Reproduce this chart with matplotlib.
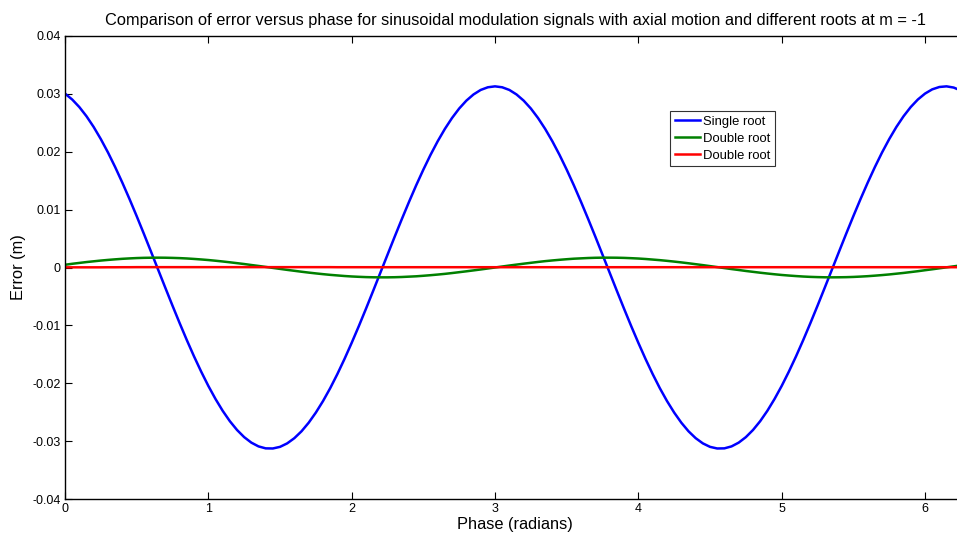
import matplotlib
matplotlib.use("Agg")
import matplotlib.pyplot as plt
import numpy as np

plt.rcParams['font.family'] = ['Liberation Sans', 'DejaVu Sans']

# samples read at whole tenths of a radian
phase_a = [0.0, 0.1, 0.2, 0.3, 0.4, 0.5, 0.6, 0.7, 0.8, 0.9,
           1.0, 1.1, 1.2, 1.3, 1.4, 1.5, 1.6, 1.7, 1.8, 1.9,
           2.0, 2.1, 2.2, 2.3, 2.4, 2.5, 2.6, 2.7, 2.8, 2.9,
           3.0, 3.1, 3.2, 3.3, 3.4, 3.5, 3.6, 3.7, 3.8, 3.9,
           4.0, 4.1, 4.2, 4.3, 4.4, 4.5, 4.6, 4.7, 4.8, 4.9,
           5.0, 5.1, 5.2, 5.3, 5.4, 5.5, 5.6, 5.7, 5.8, 5.9,
           6.0, 6.1, 6.2, 6.283]

single_root_a = [0.03005, 0.02772, 0.02428, 0.01987, 0.01466, 0.00888, 0.00274, -0.00351, -0.00962, -0.01535,
                 -0.02046, -0.02476, -0.02807, -0.03026, -0.03125, -0.03099, -0.02949, -0.02682, -0.02308, -0.01842,
                 -0.01302, -0.00711, -0.00091, 0.00532, 0.01134, 0.01691, 0.02181, 0.02583, 0.02883, 0.03068,
                 0.03130, 0.03068, 0.02883, 0.02583, 0.02181, 0.01691, 0.01134, 0.00532, -0.00091, -0.00711,
                 -0.01302, -0.01842, -0.02308, -0.02682, -0.02949, -0.03099, -0.03125, -0.03026, -0.02807, -0.02476,
                 -0.02046, -0.01535, -0.00962, -0.00351, 0.00274, 0.00888, 0.01466, 0.01987, 0.02428, 0.02772,
                 0.03005, 0.03119, 0.03109, 0.03005]

double_root_1_a = [0.00047, 0.00079, 0.00107, 0.00131, 0.00150, 0.00163, 0.00169, 0.00169, 0.00162, 0.00148,
                   0.00129, 0.00104, 0.00075, 0.00043, 0.00010, -0.00024, -0.00057, -0.00088, -0.00115, -0.00137,
                   -0.00155, -0.00166, -0.00170, -0.00168, -0.00158, -0.00143, -0.00122, -0.00096, -0.00066, -0.00034,
                   0.00000, 0.00034, 0.00066, 0.00096, 0.00122, 0.00143, 0.00158, 0.00168, 0.00170, 0.00166,
                   0.00155, 0.00137, 0.00115, 0.00088, 0.00057, 0.00024, -0.00010, -0.00043, -0.00075, -0.00104,
                   -0.00129, -0.00148, -0.00162, -0.00169, -0.00169, -0.00163, -0.00150, -0.00131, -0.00107, -0.00079,
                   -0.00047, -0.00014, 0.00020, 0.00047]

double_root_2_a = [0.00003, 0.00003, 0.00003, 0.00004, 0.00005, 0.00006, 0.00006, 0.00006, 0.00006, 0.00006,
                   0.00006, 0.00006, 0.00006, 0.00006, 0.00006, 0.00006, 0.00006, 0.00006, 0.00006, 0.00005,
                   0.00005, 0.00005, 0.00005, 0.00005, 0.00005, 0.00005, 0.00005, 0.00005, 0.00005, 0.00005,
                   0.00005, 0.00005, 0.00005, 0.00005, 0.00005, 0.00005, 0.00005, 0.00005, 0.00005, 0.00005,
                   0.00005, 0.00005, 0.00005, 0.00005, 0.00005, 0.00005, 0.00005, 0.00005, 0.00005, 0.00005,
                   0.00005, 0.00005, 0.00005, 0.00005, 0.00005, 0.00005, 0.00005, 0.00005, 0.00005, 0.00005,
                   0.00005, 0.00005, 0.00005, 0.00005]

# samples read at the half tenths in between
phase_b = [0.05, 0.15, 0.25, 0.35, 0.45, 0.55, 0.65, 0.75, 0.85, 0.95,
           1.05, 1.15, 1.25, 1.35, 1.45, 1.55, 1.65, 1.75, 1.85, 1.95,
           2.05, 2.15, 2.25, 2.35, 2.45, 2.55, 2.65, 2.75, 2.85, 2.95,
           3.05, 3.15, 3.25, 3.35, 3.45, 3.55, 3.65, 3.75, 3.85, 3.95,
           4.05, 4.15, 4.25, 4.35, 4.45, 4.55, 4.65, 4.75, 4.85, 4.95,
           5.05, 5.15, 5.25, 5.35, 5.45, 5.55, 5.65, 5.75, 5.85, 5.95,
           6.05, 6.15, 6.25]

single_root_b = [0.02903, 0.02613, 0.02218, 0.01735, 0.01183, 0.00584, -0.00039, -0.00660, -0.01255, -0.01799,
                 -0.02272, -0.02655, -0.02931, -0.03091, -0.03127, -0.03039, -0.02830, -0.02507, -0.02086, -0.01580,
                 -0.01012, -0.00403, 0.00221, 0.00837, 0.01420, 0.01946, 0.02394, 0.02747, 0.02990, 0.03114,
                 0.03114, 0.02990, 0.02747, 0.02394, 0.01946, 0.01420, 0.00837, 0.00221, -0.00403, -0.01012,
                 -0.01580, -0.02086, -0.02507, -0.02830, -0.03039, -0.03127, -0.03091, -0.02931, -0.02655, -0.02272,
                 -0.01799, -0.01255, -0.00660, -0.00039, 0.00584, 0.01183, 0.01735, 0.02218, 0.02613, 0.02903,
                 0.03078, 0.03130, 0.03057]

double_root_1_b = [0.00064, 0.00094, 0.00120, 0.00141, 0.00157, 0.00167, 0.00170, 0.00166, 0.00156, 0.00139,
                   0.00117, 0.00090, 0.00060, 0.00027, -0.00007, -0.00041, -0.00073, -0.00102, -0.00127, -0.00147,
                   -0.00161, -0.00169, -0.00170, -0.00164, -0.00152, -0.00133, -0.00110, -0.00081, -0.00050, -0.00017,
                   0.00017, 0.00050, 0.00081, 0.00110, 0.00133, 0.00152, 0.00164, 0.00170, 0.00169, 0.00161,
                   0.00147, 0.00127, 0.00102, 0.00073, 0.00041, 0.00007, -0.00027, -0.00060, -0.00090, -0.00117,
                   -0.00139, -0.00156, -0.00166, -0.00170, -0.00167, -0.00157, -0.00141, -0.00120, -0.00094, -0.00064,
                   -0.00031, 0.00003, 0.00037]

double_root_2_b = [0.00003, 0.00003, 0.00003, 0.00004, 0.00005, 0.00006, 0.00006, 0.00006, 0.00006, 0.00006,
                   0.00006, 0.00006, 0.00006, 0.00006, 0.00006, 0.00006, 0.00006, 0.00006, 0.00006, 0.00005,
                   0.00005, 0.00005, 0.00005, 0.00005, 0.00005, 0.00005, 0.00005, 0.00005, 0.00005, 0.00005,
                   0.00005, 0.00005, 0.00005, 0.00005, 0.00005, 0.00005, 0.00005, 0.00005, 0.00005, 0.00005,
                   0.00005, 0.00005, 0.00005, 0.00005, 0.00005, 0.00005, 0.00005, 0.00005, 0.00005, 0.00005,
                   0.00005, 0.00005, 0.00005, 0.00005, 0.00005, 0.00005, 0.00005, 0.00005, 0.00005, 0.00005,
                   0.00005, 0.00005, 0.00005]

labels = ["Single root", "Double root", "Double root"]
colors = ["#0000ff", "#008000", "#ff0000"]

x_ticks = [0, 1, 2, 3, 4, 5, 6]
y_ticks = [-0.04, -0.03, -0.02, -0.01, 0, 0.01, 0.02, 0.03, 0.04]
y_ticklabels = ["-0.04", "-0.03", "-0.02", "-0.01", "0", "0.01", "0.02", "0.03", "0.04"]

# merge both sample sets in phase order
phase = np.array(phase_a + phase_b)
order = np.argsort(phase)
series = [np.array(single_root_a + single_root_b),
          np.array(double_root_1_a + double_root_1_b),
          np.array(double_root_2_a + double_root_2_b)]

fig = plt.figure(figsize=(9.57, 5.34), dpi=100)
ax = fig.add_axes([65 / 957, 35 / 534, 900.6 / 957, 463 / 534])

for ys, lab, col in zip(series, labels, colors):
    ax.plot(phase[order], ys[order], color=col, lw=1.8, label=lab)

ax.set_xlim(0, 6.283)
ax.set_ylim(-0.04, 0.04)
ax.set_xticks(x_ticks)
ax.set_xticklabels([str(t) for t in x_ticks])
ax.set_yticks(y_ticks)
ax.set_yticklabels(y_ticklabels)
ax.tick_params(direction='in', top=True, right=True, labelsize=9, length=5, width=0.8, pad=3)
for s in ax.spines.values():
    s.set_linewidth(1.0)

ax.set_title("Comparison of error versus phase for sinusoidal modulation signals with axial motion and different roots at m = -1",
             fontsize=11.8, pad=8)
ax.set_xlabel("Phase (radians)", fontsize=11.8, labelpad=1)
ax.set_ylabel("Error (m)", fontsize=11.8, labelpad=5)

leg = ax.legend(loc='upper left', bbox_to_anchor=(0.672, 0.838), fontsize=9.4,
                frameon=True, fancybox=False, edgecolor='black', handlelength=1.9,
                borderpad=0.35, labelspacing=0.38, handletextpad=0.3, borderaxespad=0)
leg.get_frame().set_linewidth(0.8)

fig.savefig("out.png", dpi=100)
